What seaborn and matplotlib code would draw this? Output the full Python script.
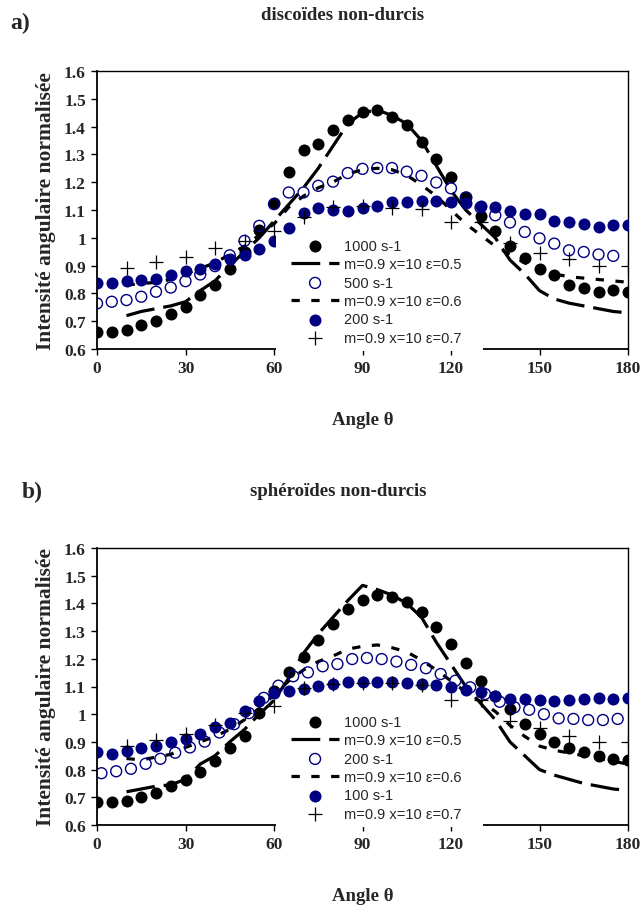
import numpy as np
import pandas as pd
import matplotlib
matplotlib.use('Agg')
import matplotlib.pyplot as plt
from matplotlib.patches import Rectangle
import seaborn as sns

sns.set_theme(style='white')
plt.rcParams['font.family'] = ['Liberation Serif', 'DejaVu Serif']

# angles (degrees)
angles = [0, 5, 10, 15, 20, 25, 30, 35, 40, 45, 50, 55, 60, 65, 70, 75, 80, 85, 90,
          95, 100, 105, 110, 115, 120, 125, 130, 135, 140, 145, 150, 155, 160, 165,
          170, 175, 180]
angles_theo = angles[2:]
angles_cross = [10, 20, 30, 40, 50, 60, 70, 80, 90, 100, 110, 120, 130, 140, 150,
                160, 170, 180]
angles_open_b = [1.5, 6.5, 11.5, 16.5, 21.5, 26.5, 31.5, 36.5, 41.5, 46.5, 51.5,
                 56.5, 61.5, 66.5, 71.5, 76.5, 81.5, 86.5, 91.5, 96.5, 101.5, 106.5,
                 111.5, 116.5, 121.5, 126.5, 131.5, 136.5, 141.5, 146.5, 151.5, 156.5,
                 161.5, 166.5, 171.5, 176.5]

# ---- a) discoides non-durcis
a_1000 = [0.66, 0.66, 0.67, 0.685, 0.70, 0.726, 0.752, 0.793, 0.832, 0.886, 0.949,
          1.028, 1.125, 1.238, 1.317, 1.338, 1.386, 1.425, 1.452, 1.458, 1.436, 1.406,
          1.344, 1.284, 1.217, 1.145, 1.079, 1.025, 0.971, 0.929, 0.889, 0.865, 0.832,
          0.82, 0.805, 0.814, 0.806]
a_500 = [0.764, 0.77, 0.776, 0.788, 0.806, 0.821, 0.844, 0.868, 0.898, 0.937, 0.989,
         1.043, 1.121, 1.163, 1.163, 1.187, 1.202, 1.233, 1.248, 1.251, 1.251, 1.238,
         1.223, 1.199, 1.178, 1.145, 1.109, 1.081, 1.055, 1.021, 0.998, 0.979, 0.955,
         0.949, 0.94, 0.935]
a_200 = [0.838, 0.836, 0.844, 0.85, 0.853, 0.865, 0.879, 0.889, 0.906, 0.923, 0.937,
         0.961, 0.989, 1.034, 1.089, 1.107, 1.101, 1.097, 1.108, 1.115, 1.127, 1.129,
         1.133, 1.134, 1.129, 1.125, 1.115, 1.109, 1.096, 1.085, 1.085, 1.061, 1.058,
         1.051, 1.04, 1.045, 1.045]
a_eps05 = [0.72, 0.735, 0.745, 0.755, 0.77, 0.81, 0.845, 0.90, 0.95, 1.00, 1.06, 1.12,
           1.18, 1.25, 1.33, 1.41, 1.45, 1.46, 1.44, 1.41, 1.35, 1.26, 1.17, 1.10,
           1.05, 1.00, 0.92, 0.87, 0.81, 0.78, 0.765, 0.755, 0.745, 0.735, 0.73]
a_eps06 = [0.83, 0.835, 0.84, 0.85, 0.87, 0.89, 0.91, 0.94, 0.97, 1.01, 1.05, 1.11,
           1.15, 1.18, 1.20, 1.23, 1.245, 1.25, 1.245, 1.225, 1.19, 1.15, 1.10, 1.05,
           1.01, 0.97, 0.94, 0.91, 0.89, 0.87, 0.86, 0.855, 0.85, 0.845, 0.84]
a_eps07 = [0.892, 0.914, 0.931, 0.965, 0.989, 1.025, 1.075, 1.112, 1.115, 1.108, 1.103,
           1.056, 1.057, 0.98, 0.945, 0.922, 0.898, 0.898]

# ---- b) spheroides non-durcis
b_1000 = [0.682, 0.682, 0.685, 0.70, 0.716, 0.740, 0.764, 0.79, 0.832, 0.877, 0.922,
          1.003, 1.085, 1.151, 1.208, 1.268, 1.326, 1.38, 1.413, 1.43, 1.422, 1.404,
          1.368, 1.314, 1.253, 1.185, 1.119, 1.065, 1.019, 0.965, 0.929, 0.898, 0.877,
          0.862, 0.848, 0.838, 0.836]
b_200 = [0.787, 0.794, 0.803, 0.821, 0.839, 0.861, 0.88, 0.901, 0.934, 0.964, 1.004,
         1.059, 1.103, 1.137, 1.151, 1.173, 1.181, 1.199, 1.203, 1.199, 1.19, 1.178,
         1.166, 1.145, 1.121, 1.097, 1.073, 1.045, 1.025, 1.016, 1.0, 0.985, 0.983,
         0.979, 0.979, 0.983]
b_100 = [0.862, 0.858, 0.868, 0.877, 0.886, 0.898, 0.912, 0.928, 0.954, 0.97, 1.012,
         1.048, 1.076, 1.084, 1.091, 1.101, 1.109, 1.115, 1.118, 1.118, 1.115, 1.113,
         1.109, 1.106, 1.097, 1.089, 1.079, 1.065, 1.055, 1.055, 1.051, 1.047, 1.051,
         1.055, 1.057, 1.055, 1.059]
b_eps05 = [0.72, 0.73, 0.74, 0.745, 0.765, 0.82, 0.85, 0.90, 0.945, 1.00, 1.05, 1.13,
           1.22, 1.29, 1.35, 1.41, 1.465, 1.45, 1.43, 1.40, 1.35, 1.26, 1.18, 1.10,
           1.04, 0.98, 0.90, 0.85, 0.80, 0.78, 0.765, 0.75, 0.74, 0.73, 0.725]
b_eps06 = [0.84, 0.835, 0.845, 0.855, 0.88, 0.90, 0.92, 0.945, 0.98, 1.02, 1.07, 1.12,
           1.16, 1.19, 1.21, 1.235, 1.245, 1.25, 1.24, 1.225, 1.195, 1.16, 1.12, 1.08,
           1.045, 1.01, 0.96, 0.92, 0.885, 0.87, 0.86, 0.85, 0.84, 0.83, 0.82]
b_eps07 = [0.884, 0.908, 0.928, 0.96, 1.003, 1.03, 1.094, 1.109, 1.112, 1.112, 1.105,
           1.052, 1.05, 0.977, 0.949, 0.922, 0.90, 0.90]

xticks = [0, 30, 60, 90, 120, 150, 180]
yticks = [0.6, 0.7, 0.8, 0.9, 1.0, 1.1, 1.2, 1.3, 1.4, 1.5, 1.6]
ytick_labels = ['0.6', '0.7', '0.8', '0.9', '1', '1.1', '1.2', '1.3', '1.4', '1.5', '1.6']

panels = [
    dict(lab='a)', title='discoïdes non-durcis', y1000=a_1000, open_x=angles[:-1],
         open_y=a_500, open_lab='500 s-1', navy_y=a_200, navy_lab='200 s-1',
         e5=a_eps05, e6=a_eps06, e7=a_eps07),
    dict(lab='b)', title='sphéroïdes non-durcis', y1000=b_1000, open_x=angles_open_b,
         open_y=b_200, open_lab='200 s-1', navy_y=b_100, navy_lab='100 s-1',
         e5=b_eps05, e6=b_eps06, e7=b_eps07),
]

W, H = 643, 912
fig = plt.figure(figsize=(W / 100, H / 100), dpi=100)
fig.patch.set_facecolor('white')

ax_boxes = [(97, 72, 628, 350), (97, 549, 628, 826)]
navy = '#000080'

for p, (x0, y0, x1, y1) in zip(panels, ax_boxes):
    ax = fig.add_axes([x0 / W, 1 - y1 / H, (x1 - x0) / W, (y1 - y0) / H])
    ax.set_facecolor('white')

    sns.scatterplot(x=angles, y=p['y1000'], ax=ax, color='black', s=75,
                    edgecolor='black', linewidth=0, zorder=3, label='1000 s-1')
    sns.lineplot(x=angles_theo, y=p['e5'], ax=ax, color='black', lw=2.3,
                 zorder=4, label='m=0.9 x=10 ε=0.5')
    ax.lines[-1].set_linestyle((0, (9, 2.8)))
    sns.scatterplot(x=p['open_x'], y=p['open_y'], ax=ax, s=62, facecolor='none',
                    edgecolor=navy, linewidth=1.0, zorder=5, label=p['open_lab'])
    sns.lineplot(x=angles_theo, y=p['e6'], ax=ax, color='black', lw=2.3,
                 zorder=4, label='m=0.9 x=10 ε=0.6')
    ax.lines[-1].set_linestyle((0, (2.6, 3.6)))
    sns.scatterplot(x=angles, y=p['navy_y'], ax=ax, color=navy, s=75,
                    linewidth=0, zorder=6, label=p['navy_lab'])
    sns.scatterplot(x=angles_cross, y=p['e7'], ax=ax, color='black', marker='+',
                    s=110, linewidth=0.9, zorder=7, label='m=0.9 x=10 ε=0.7')

    ax.set_xlim(0, 180)
    ax.set_ylim(0.6, 1.6)
    ax.set_xticks(xticks)
    ax.set_xticklabels([str(t) for t in xticks], fontsize=12.5, fontweight='bold')
    ax.set_yticks(yticks)
    ax.set_yticklabels(ytick_labels, fontsize=12.5, fontweight='bold')
    ax.tick_params(axis='both', direction='out', length=4, width=1, color='black',
                   bottom=True, left=True, pad=4)
    for s in ax.spines.values():
        s.set_visible(True)
        s.set_color('black')
        s.set_linewidth(1.0)
    ax.spines['left'].set_linewidth(1.3)
    ax.spines['bottom'].set_linewidth(1.3)
    ax.set_xlabel('Angle θ', fontsize=13.5, fontweight='bold', labelpad=25)
    ax.set_ylabel('Intensité angulaire normalisée', fontsize=15.5, fontweight='bold',
                  labelpad=6)

    # white box behind the legend (covers data and the bottom spine)
    box = Rectangle((276 / W, 1 - (y1 + 2) / H), (483 - 276) / W, 116 / H,
                    transform=fig.transFigure, facecolor='white', edgecolor='none',
                    clip_on=False, zorder=9)
    ax.add_patch(box)

    leg = ax.legend(loc='upper left', bbox_to_anchor=(291 / W, 1 - (y1 - 110) / H),
                    bbox_transform=fig.transFigure, frameon=False,
                    borderaxespad=0, borderpad=0, handlelength=3.3,
                    handletextpad=0.35, labelspacing=0.3,
                    prop={'family': 'Liberation Sans', 'size': 10.5})
    leg.set_zorder(10)

fig.text(10 / W, 1 - 23 / H, 'a)', fontsize=17, fontweight='bold', va='center')
fig.text(343 / W, 1 - 15 / H, panels[0]['title'], fontsize=13.5, fontweight='bold',
         ha='center', va='center')
fig.text(22 / W, 1 - 492 / H, 'b)', fontsize=17, fontweight='bold', va='center')
fig.text(338 / W, 1 - 492 / H, panels[1]['title'], fontsize=13.5, fontweight='bold',
         ha='center', va='center')

fig.savefig('out.png', dpi=100, facecolor='white')
